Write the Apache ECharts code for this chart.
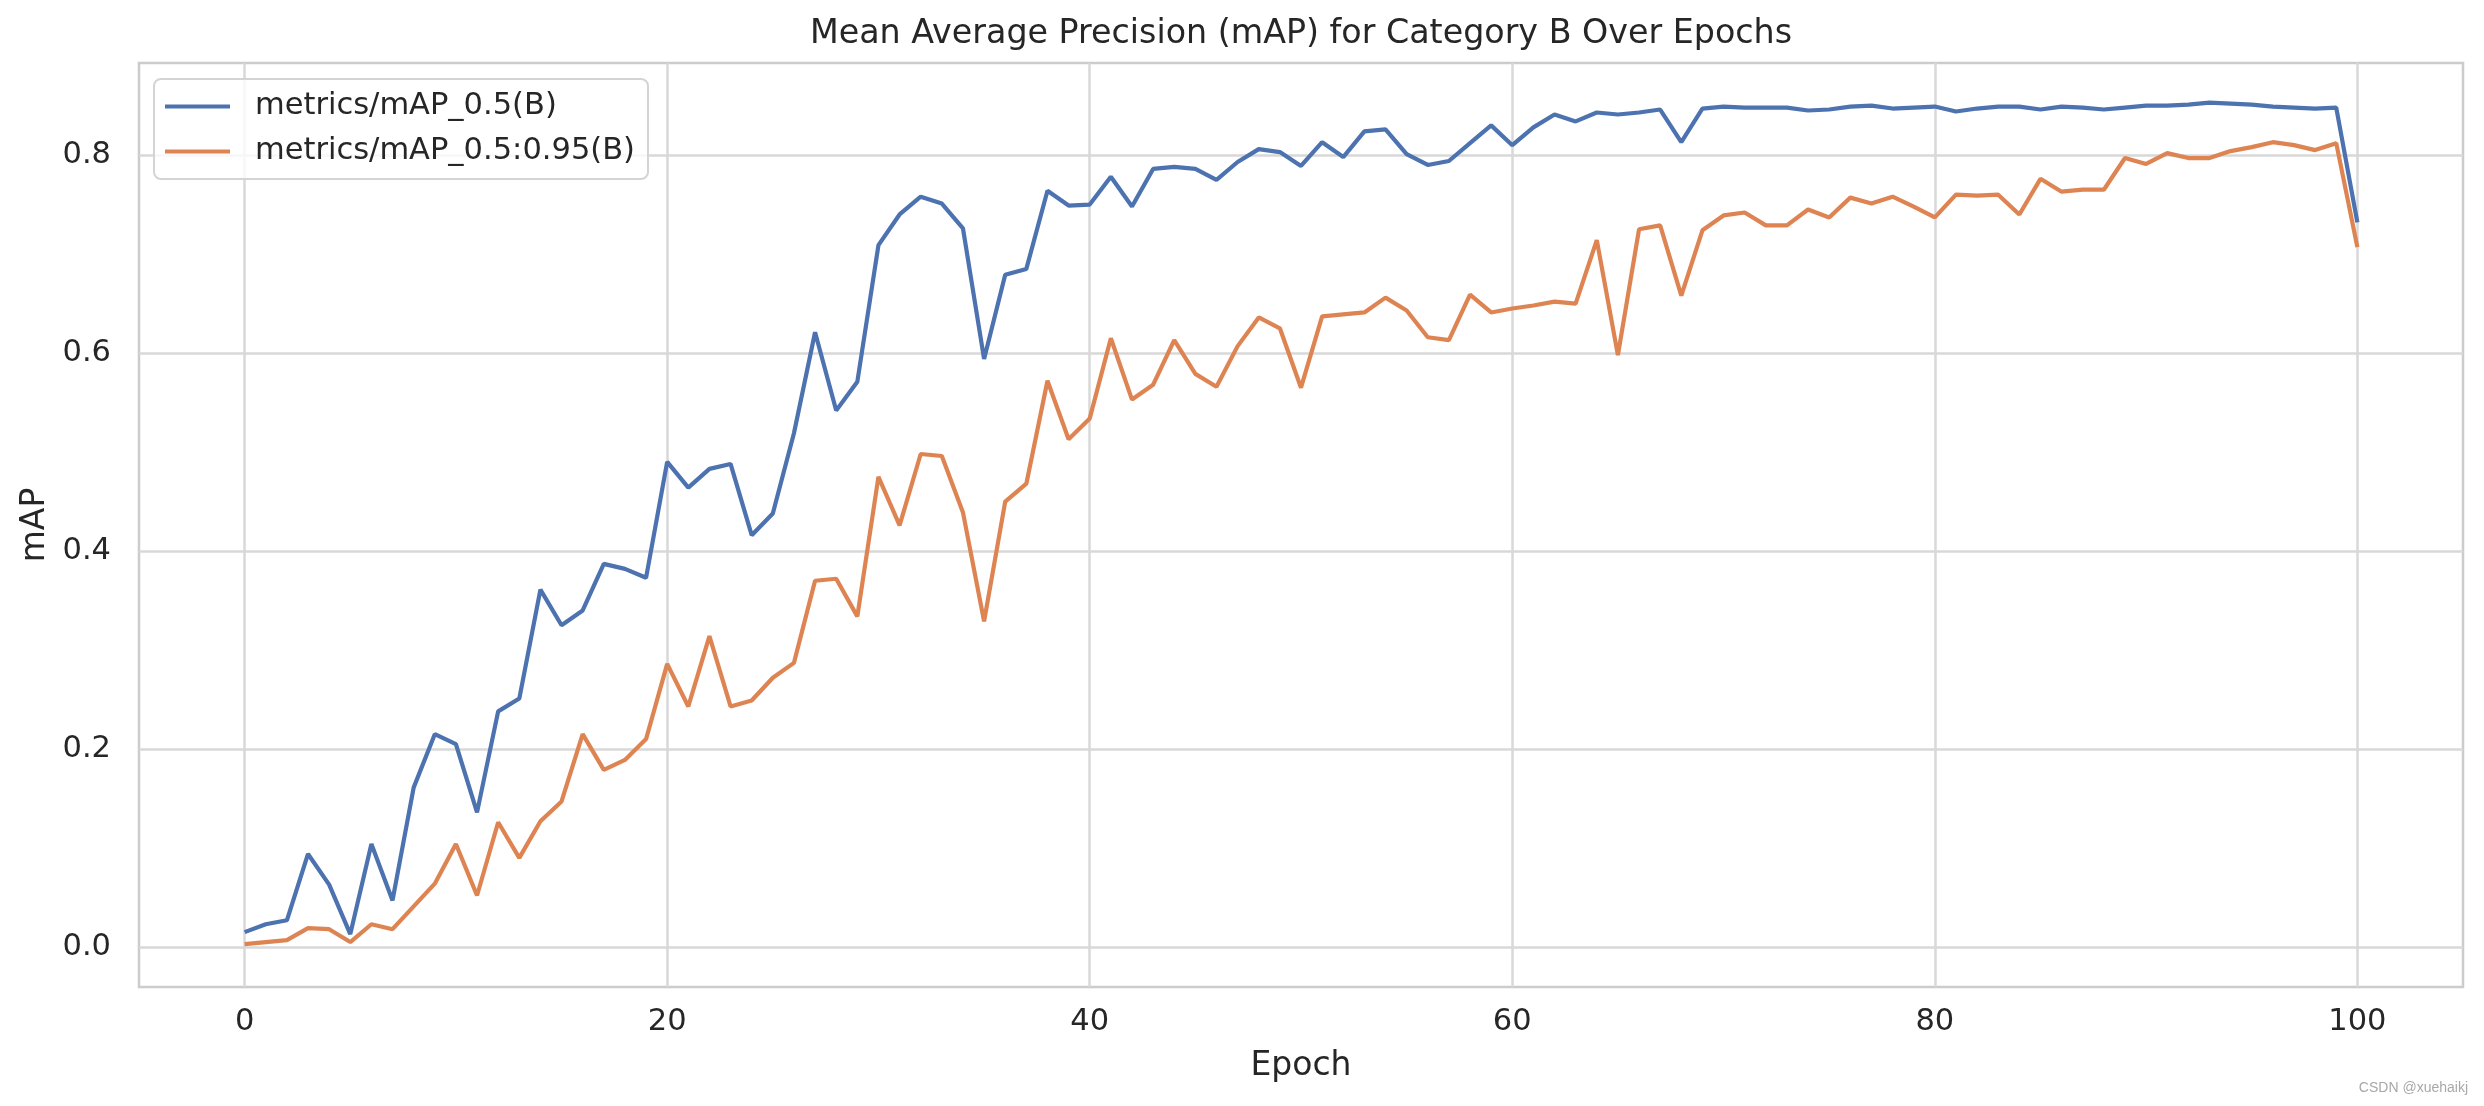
<!DOCTYPE html>
<html>
<head>
<meta charset="utf-8">
<script src="https://cdn.jsdelivr.net/npm/echarts@6/dist/echarts.min.js"></script>
<style>
html,body{margin:0;padding:0;background:#fff;}
#chart{width:2484px;height:1106px;}
</style>
</head>
<body>
<div id="chart"></div>
<script>
const titleText = 'Mean Average Precision (mAP) for Category B Over Epochs';
const seriesNames = ['metrics/mAP_0.5(B)', 'metrics/mAP_0.5:0.95(B)'];
const xTicks = [0, 20, 40, 60, 80, 100];
const yTicks = [0.0, 0.2, 0.4, 0.6, 0.8];

const mAP50 = [
  0.015,0.023,0.027,0.094,0.063,0.013,0.104,0.047,0.161,0.215,
  0.205,0.136,0.238,0.251,0.361,0.325,0.340,0.387,0.382,0.373,
  0.490,0.464,0.483,0.488,0.416,0.438,0.519,0.621,0.542,0.571,
  0.709,0.740,0.758,0.751,0.726,0.594,0.679,0.685,0.764,0.749,
  0.750,0.778,0.748,0.786,0.788,0.786,0.775,0.793,0.806,0.803,
  0.789,0.813,0.798,0.824,0.826,0.801,0.790,0.794,0.812,0.830,
  0.810,0.828,0.841,0.834,0.843,0.841,0.843,0.846,0.813,0.847,
  0.849,0.848,0.848,0.848,0.845,0.846,0.849,0.850,0.847,0.848,
  0.849,0.844,0.847,0.849,0.849,0.846,0.849,0.848,0.846,0.848,
  0.850,0.850,0.851,0.853,0.852,0.851,0.849,0.848,0.847,0.848,
  0.732
];
const mAP5095 = [
  0.003,0.005,0.007,0.019,0.018,0.005,0.023,0.018,0.041,0.064,
  0.104,0.052,0.126,0.090,0.127,0.147,0.215,0.179,0.189,0.210,
  0.286,0.243,0.314,0.243,0.249,0.272,0.287,0.370,0.372,0.334,
  0.475,0.426,0.498,0.496,0.439,0.329,0.450,0.468,0.572,0.513,
  0.534,0.615,0.553,0.568,0.613,0.579,0.566,0.607,0.636,0.625,
  0.565,0.637,0.639,0.641,0.656,0.643,0.616,0.613,0.659,0.641,
  0.645,0.648,0.652,0.650,0.714,0.598,0.725,0.729,0.658,0.724,
  0.739,0.742,0.729,0.729,0.745,0.737,0.757,0.751,0.758,0.748,
  0.737,0.760,0.759,0.760,0.740,0.776,0.763,0.765,0.765,0.797,
  0.791,0.802,0.797,0.797,0.804,0.808,0.813,0.810,0.805,0.812,
  0.707
];
const epochs = mAP50.map((_, i) => i);

const FONT = 'DejaVu Sans';
const TXT = '#262626';

const chart = echarts.init(document.getElementById('chart'), null, {renderer: 'canvas'});
chart.setOption({
  backgroundColor: '#ffffff',
  animation: false,
  title: {
    text: titleText,
    left: 1301,
    textAlign: 'center',
    top: 18,
    padding: 0,
    textStyle: {fontFamily: FONT, fontSize: 33.3, fontWeight: 'normal', color: TXT}
  },
  grid: {
    left: 139, right: 21, top: 63, bottom: 119,
    show: true, borderColor: '#cccccc', borderWidth: 2.5,
    backgroundColor: '#ffffff', containLabel: false
  },
  legend: {
    orient: 'vertical',
    left: 154, top: 79,
    padding: [12, 13, 12, 11],
    itemGap: 14,
    icon: 'rect',
    itemWidth: 65, itemHeight: 4,
    backgroundColor: 'rgba(255,255,255,0.8)',
    borderColor: '#d4d4d4', borderWidth: 2, borderRadius: 7,
    textStyle: {fontFamily: FONT, fontSize: 30.5, color: TXT, padding: [0, 0, 0, 20]},
    data: seriesNames
  },
  xAxis: {
    type: 'value', min: -5, max: 105,
    name: 'Epoch', nameLocation: 'middle', nameGap: 63,
    nameTextStyle: {fontFamily: FONT, fontSize: 33, color: TXT},
    axisLine: {show: false},
    axisTick: {show: false, customValues: xTicks},
    axisLabel: {customValues: xTicks, fontFamily: FONT, fontSize: 30.5, color: TXT, margin: 20},
    splitLine: {show: true, lineStyle: {color: '#d8d8d8', width: 2.5}}
  },
  yAxis: {
    type: 'value', min: -0.0404, max: 0.893,
    name: 'mAP', nameLocation: 'middle', nameGap: 84,
    nameTextStyle: {fontFamily: FONT, fontSize: 33, color: TXT},
    axisLine: {show: false},
    axisTick: {show: false, customValues: yTicks},
    axisLabel: {customValues: yTicks, fontFamily: FONT, fontSize: 30.5, color: TXT, margin: 28,
      formatter: v => v.toFixed(1)},
    splitLine: {show: true, lineStyle: {color: '#d8d8d8', width: 2.5}}
  },
  series: [
    {
      name: seriesNames[0], type: 'line', symbol: 'none', z: 3,
      data: epochs.map((e, i) => [e, mAP50[i]]),
      lineStyle: {color: '#4c72b0', width: 4.2}, itemStyle: {color: '#4c72b0'}
    },
    {
      name: seriesNames[1], type: 'line', symbol: 'none', z: 3,
      data: epochs.map((e, i) => [e, mAP5095[i]]),
      lineStyle: {color: '#dd8452', width: 4.2}, itemStyle: {color: '#dd8452'}
    }
  ],
  graphic: [{
    type: 'text', right: 16, top: 1081,
    style: {text: 'CSDN @xuehaikj', fontFamily: 'Liberation Sans', fontSize: 14, fill: '#a8a8a8'}
  }]
});
</script>
</body>
</html>
